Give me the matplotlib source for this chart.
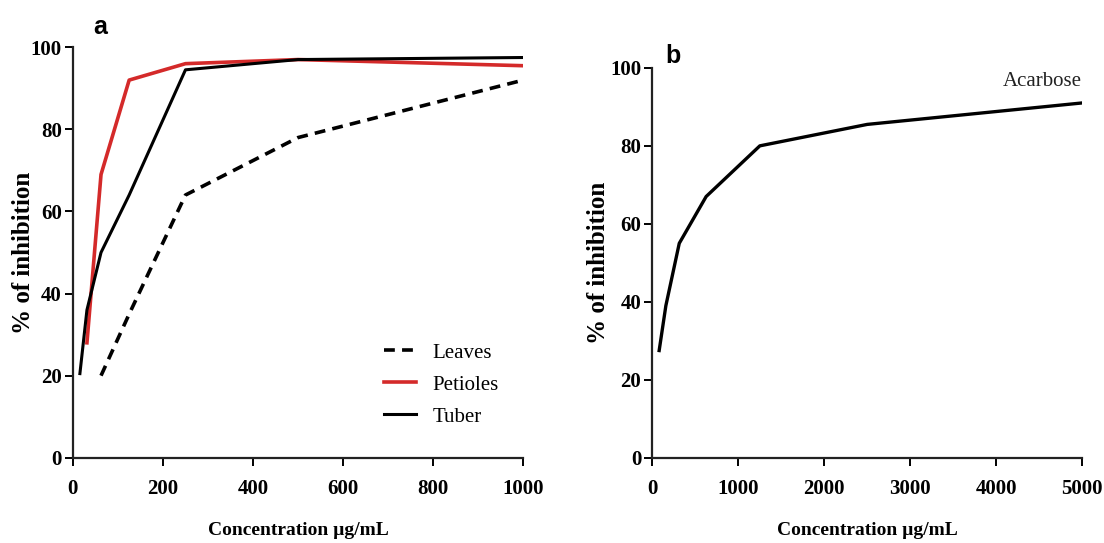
import matplotlib.pyplot as plt

plt.rcParams["font.family"] = ["Liberation Serif", "DejaVu Serif"]

# extract concentrations (µg/mL) and % inhibition
tuber_conc = [15.625, 31.25, 62.5, 125, 250, 500, 1000]
tuber_inh = [20.5, 36, 50, 64, 94.5, 97, 97.5]

petioles_conc = [31.25, 62.5, 125, 250, 500, 1000]
petioles_inh = [28, 69, 92, 96, 97, 95.5]

leaves_conc = [62.5, 125, 250, 500, 1000]
leaves_inh = [20, 35, 64, 78, 92]

# reference drug
acarbose_conc = [78, 156, 312, 625, 1250, 2500, 5000]
acarbose_inh = [27.5, 39, 55, 67, 80, 85.5, 91]

y_ticks = [0, 20, 40, 60, 80, 100]


def style_axes(ax, xticks, ylabel_x, xlabel_y):
    ax.spines["top"].set_visible(False)
    ax.spines["right"].set_visible(False)
    for s in ("left", "bottom"):
        ax.spines[s].set_linewidth(1.6)
        ax.spines[s].set_color("#222222")
    ax.set_ylim(0, 100)
    ax.set_xlim(xticks[0], xticks[-1])
    ax.set_xticks(xticks)
    ax.set_yticks(y_ticks)
    ax.tick_params(direction="out", length=6, width=1.4, labelsize=15)
    ax.tick_params(axis="x", pad=9)
    ax.tick_params(axis="y", pad=2)
    for lab in ax.get_xticklabels() + ax.get_yticklabels():
        lab.set_fontweight("bold")
    ax.set_ylabel("% of inhibition", fontsize=18, fontweight="bold")
    ax.yaxis.set_label_coords(ylabel_x, 0.5)
    ax.set_xlabel("Concentration µg/mL", fontsize=14, fontweight="bold")
    ax.xaxis.set_label_coords(0.5, xlabel_y)
    ax.spines["left"].set_bounds(0, 100)
    ax.margins(0)


fig = plt.figure(figsize=(11.04, 5.43), dpi=100)
ax_a = fig.add_axes([0.066, 0.157, 0.408, 0.756])
ax_b = fig.add_axes([0.591, 0.157, 0.389, 0.718])

ax_a.plot(leaves_conc, leaves_inh, color="black", lw=2.6, ls=(0, (3, 2)), label="Leaves")
ax_a.plot(petioles_conc, petioles_inh, color="#d42a2a", lw=2.6, label="Petioles")
ax_a.plot(tuber_conc, tuber_inh, color="black", lw=2.2, label="Tuber")
style_axes(ax_a, [0, 200, 400, 600, 800, 1000], -0.083, -0.157)
ax_a.legend(loc="lower left", bbox_to_anchor=(0.65, 0.03), frameon=False,
            fontsize=15, handlelength=1.5, handletextpad=0.8, labelspacing=0.6)
ax_a.text(0.045, 1.02, "a", transform=ax_a.transAxes, fontsize=18,
          fontweight="bold", family="Liberation Sans", va="bottom")

ax_b.plot(acarbose_conc, acarbose_inh, color="black", lw=2.4)
style_axes(ax_b, [0, 1000, 2000, 3000, 4000, 5000], -0.10, -0.165)
ax_b.text(5000, 94, "Acarbose", fontsize=15, ha="right", va="bottom", color="#222222")
ax_b.text(0.03, 1.0, "b", transform=ax_b.transAxes, fontsize=18,
          fontweight="bold", family="Liberation Sans", va="bottom")

fig.savefig("out.png", dpi=100)
